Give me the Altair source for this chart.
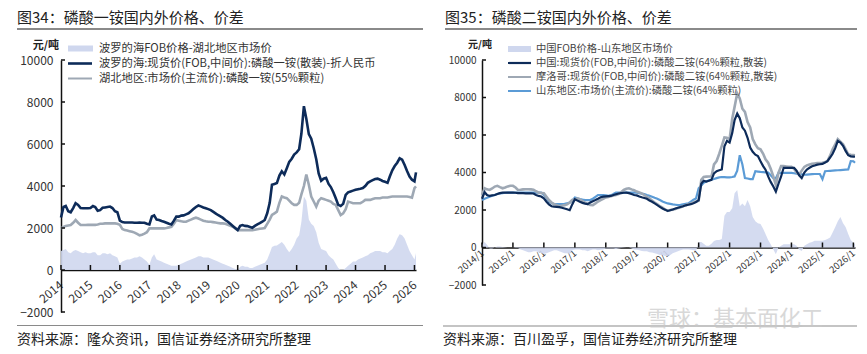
import altair as alt
import pandas as pd

FONT = "Noto Sans CJK SC"

# ---------------- shared time axis (monthly) ----------------
dates = list(pd.date_range("2014-01-01", "2026-01-01", freq="MS")) + [pd.Timestamp("2026-01-20")]
year_ticks = list(pd.date_range("2014-01-01", "2026-01-01", freq="YS"))
y_ticks = [-2000, 0, 2000, 4000, 6000, 8000, 10000]

# ---------------- 图34 data (MAP) ----------------
l_spread = [
    900, 950, 1000, 850, 800, 900, 950, 900, 850, 800, 850, 800,
    800, 850, 850, 700, 700, 800, 800, 750, 800, 700, 650, 600,
    300, 400, 450, 500, 500, 550, 600, 600, 650, 600, 500, 400,
    250, 600, 750, 500, 450, 400, 350, 300, 250, 200, 200, 200,
    250, 300, 350, 400, 450, 500, 550, 600, 650, 650, 600, 600,
    600, 550, 500, 450, 400, 350, 300, 250, 200, 150, 100, 50,
    0, 150, 200, 150, 150, 100, 100, 150, 200, 250, 300, 350,
    500, 800, 1100, 1150, 1170, 1250, 1330, 1200, 1000, 850, 1000, 1200,
    1500, 1650, 2300, 3500, 3300, 2400, 2200, 2100, 1800, 1300, 1000, 950,
    900, 700, 600, 500, 300, 100, 0, 0, 100, 200, 300, 400,
    400, 500, 550, 600, 650, 700, 800, 850, 900, 900, 900, 850,
    850, 800, 900, 1000, 1200, 1500, 1700, 1650, 1500, 1200, 900, 700,
    500, 800,
]
l_baltic = [
    2500, 3000, 3050, 2800, 2750, 2950, 3180, 3100, 2950, 2940, 2940, 2940,
    2950, 3050, 3000, 2820, 2850, 2960, 2980, 3000, 3020, 2950, 2800, 2750,
    2350, 2280, 2260, 2260, 2260, 2260, 2250, 2250, 2260, 2250, 2250, 2200,
    2170, 2550, 2600, 2400, 2380, 2330, 2300, 2250, 2200, 2170, 2350, 2540,
    2540, 2590, 2600, 2650, 2700, 2800, 2900, 3000, 3070, 3030, 2980, 2940,
    2900, 2850, 2780, 2700, 2620, 2550, 2480, 2380, 2300, 2200, 2100, 2000,
    1900, 2100, 2140, 2100, 2090, 2050, 2010, 2100, 2170, 2230, 2300, 2380,
    2700, 3200, 4060, 4100, 4140, 4500, 4700, 4550, 4850, 5150, 5300, 5500,
    5600, 5750, 6500, 7800, 7200, 6470, 6250, 5800, 5270, 4600, 4250, 4350,
    4390, 4100, 3950, 3700, 3420, 3100, 3050, 3150, 3580, 3700, 3740, 3780,
    3820, 3850, 3870, 3900, 4000, 4150, 4220, 4280, 4330, 4350, 4300, 4240,
    4200, 4150, 4450, 4750, 4950, 5110, 5320, 5250, 5000, 4710, 4450, 4300,
    4220, 4650,
]
l_hubei = [
    1980, 2050, 2100, 2120, 2140, 2250, 2380, 2250, 2140, 2140, 2140, 2150,
    2150, 2150, 2150, 2170, 2200, 2200, 2220, 2220, 2220, 2220, 2220, 2200,
    2150, 1950, 1900, 1880, 1850, 1820, 1780, 1720, 1650, 1680, 1730, 1800,
    1980, 1980, 1980, 1980, 1980, 1980, 1980, 2000, 2030, 2060, 2200, 2380,
    2350, 2320, 2300, 2300, 2350, 2400, 2450, 2490, 2450, 2400, 2350, 2320,
    2300, 2300, 2280, 2260, 2240, 2220, 2220, 2200, 2150, 2100, 2060, 1980,
    1900, 1900, 1900, 1900, 1900, 1900, 1900, 1920, 1940, 1960, 1980, 2000,
    2200, 2400, 2620, 2700, 2780, 3200, 3500, 3450, 3420, 3300, 3180, 3100,
    3100, 3200, 3600, 4000, 4550, 4060, 3500, 3260, 3020, 3300, 3420, 3380,
    3340, 3300, 3260, 3150, 3100, 2850, 2620, 2700, 2900, 3260, 3220, 3180,
    3180, 3180, 3180, 3250, 3340, 3340, 3340, 3380, 3420, 3420, 3420, 3450,
    3450, 3450, 3480, 3500, 3500, 3500, 3500, 3500, 3500, 3500, 3480, 3450,
    3900, 3980,
]

# ---------------- 图35 data (DAP) ----------------
r_spread = [
    150, 300, 150, -50, -50, 0, 50, 50, 30, 20, 0, 0,
    0, -20, -30, -100, -150, -200, -250, -250, -200, -200, -250, -300,
    -350, -300, -250, -200, -150, -150, -200, -250, -300, -300, -350, -150,
    -100, -100, -100, -150, -150, -200, -150, -100, -100, -150, -120, -100,
    -50, -50, -50, -50, -80, -50, -30, -10, 0, 0, -50, -100,
    -120, -150, -180, -200, -200, -250, -270, -300, -350, -400, -400, -450,
    -450, -400, -300, -250, -200, -150, -100, -100, -100, -120, -150, -200,
    300, 300, 200, 100, 100, 200, 350, 400, 400, 450, 1700, 1900,
    1900, 2100, 2900, 3070, 2200, 2350, 2200, 2530, 2200, 1630, 1400, 1300,
    1260, 1000, 720, 400, 180, -100, -360, 0, 90, 180, 180, 180,
    180, 180, 100, -100, -180, 100, 180, 250, 300, 360, 360, 360,
    360, 400, 450, 540, 800, 1100, 1400, 1630, 1300, 1100, 720, 400,
    250, 180,
]
r_china = [
    2600, 2950, 2800, 2750, 2780, 2800, 2850, 2900, 2930, 2930, 2930, 2930,
    2930, 2920, 2900, 2900, 2900, 2890, 2890, 2890, 2880, 2800, 2750, 2720,
    2620, 2440, 2300, 2200, 2180, 2170, 2150, 2120, 2080, 2040, 1990, 2300,
    2570, 2500, 2440, 2380, 2340, 2310, 2400, 2470, 2530, 2600, 2680, 2710,
    2730, 2740, 2750, 2800, 2840, 2880, 2900, 2920, 2930, 2900, 2850, 2800,
    2780, 2720, 2680, 2640, 2600, 2500, 2440, 2350, 2260, 2170, 2080, 2020,
    1950, 1990, 2030, 2080, 2120, 2160, 2200, 2250, 2280, 2310, 2360, 2420,
    2530, 3400, 3560, 3520, 3560, 3610, 3950, 4070, 4120, 4160, 5400, 5690,
    5600, 6100, 6800, 7140, 6900, 6400, 6230, 5850, 5330, 5100, 4950, 4880,
    4600, 4340, 4150, 3790, 3500, 3250, 2980, 3400, 3790, 4250, 4250, 4250,
    4250, 4250, 4100, 3850, 3700, 4000, 4160, 4250, 4330, 4370, 4420, 4440,
    4460, 4530, 4610, 4800, 5000, 5300, 5690, 5600, 5420, 5150, 4920, 4860,
    4850, 4840,
]
r_morocco = [
    2800, 3160, 3100, 3070, 3150, 3250, 3290, 3220, 3160, 3200, 3260, 3290,
    3290, 3200, 3070, 3080, 3100, 3110, 3110, 3100, 3080, 3000, 2930, 2910,
    2890, 2700, 2530, 2400, 2310, 2250, 2200, 2230, 2260, 2300, 2400, 2530,
    2560, 2620, 2560, 2480, 2390, 2320, 2270, 2260, 2350, 2450, 2530, 2600,
    2670, 2700, 2740, 2780, 2800, 2850, 2950, 3070, 3130, 3160, 3100, 3050,
    2980, 2940, 2890, 2800, 2700, 2620, 2500, 2400, 2310, 2200, 2130, 2030,
    1950, 2000, 2020, 2050, 2100, 2150, 2200, 2260, 2300, 2350, 2400, 2450,
    2490, 3610, 3760, 3780, 3790, 3790, 4430, 4610, 5000, 5420, 5870, 5850,
    5780, 6870, 7500, 8220, 7950, 7400, 7230, 6690, 6400, 5780, 5500, 5300,
    5240, 5000, 4700, 4520, 4200, 3790, 3340, 3980, 4340, 4340, 4320, 4300,
    4300, 4200, 4000, 3880, 4100, 4300, 4380, 4430, 4460, 4480, 4500, 4510,
    4520, 4560, 4610, 4900, 5240, 5500, 5780, 5650, 5510, 5250, 4970, 4940,
    4930, 4920,
]
r_shandong = [
    2530, 2600, 2650, 2710, 2760, 2800, 2850, 2890, 2900, 2920, 2930, 2930,
    2930, 2930, 2930, 2930, 2930, 2930, 2930, 2930, 2930, 2930, 2930, 2930,
    2800, 2650, 2440, 2370, 2310, 2310, 2310, 2310, 2330, 2360, 2390, 2500,
    2670, 2620, 2580, 2550, 2530, 2530, 2530, 2600, 2700, 2800, 2800, 2800,
    2780, 2750, 2780, 2850, 2930, 2930, 2930, 2930, 2930, 2930, 2930, 2930,
    2920, 2900, 2870, 2850, 2800, 2760, 2710, 2650, 2600, 2530, 2450, 2400,
    2350, 2330, 2300, 2280, 2260, 2270, 2300, 2330, 2350, 2450, 2550, 2620,
    3160, 3300, 3450, 3520, 3580, 3620, 3650, 3700, 3740, 3760, 3750, 3740,
    3740, 3760, 3790, 4100, 4920, 4430, 3700, 3680, 3650, 3650, 4070, 4050,
    4030, 4020, 4010, 4000, 3850, 3700, 3700, 3980, 3980, 3980, 3980, 3980,
    3980, 3960, 3940, 3920, 3900, 3880, 3890, 3900, 3910, 3920, 3920, 3920,
    3650, 4070, 4080, 4090, 4100, 4110, 4120, 4130, 4140, 4150, 4160, 4610,
    4600, 4520,
]

# ---------------- texts ----------------
l_title = "图34：磷酸一铵国内外价格、价差"
r_title = "图35：磷酸二铵国内外价格、价差"
l_source = "资料来源：隆众资讯，国信证券经济研究所整理"
r_source = "资料来源：百川盈孚，国信证券经济研究所整理"
unit = "元/吨"
l_legend = [
    "波罗的海FOB价格-湖北地区市场价",
    "波罗的海:现货价(FOB,中间价):磷酸一铵(散装)-折人民币",
    "湖北地区:市场价(主流价):磷酸一铵(55%颗粒)",
]
r_legend = [
    "中国FOB价格-山东地区市场价",
    "中国:现货价(FOB,中间价):磷酸二铵(64%颗粒,散装)",
    "摩洛哥:现货价(FOB,中间价):磷酸二铵(64%颗粒,散装)",
    "山东地区:市场价(主流价):磷酸二铵(64%颗粒)",
]
watermark = "雪球：基本面化工"

# ---------------- styles ----------------
AREA_C = "#cfd7ee"
DARK_C = "#0d2b59"
GRAY_C = "#9ea8b4"
BLUE_C = "#5b9bd6"
AXIS_C = "#111111"
TEXT_C = "#333333"

W_L, H_L = 355, 252
W_R, H_R = 373, 225
SPACING = 66
X_DOMAIN = [alt.DateTime(year=2014, month=1, date=1), alt.DateTime(year=2026, month=1, date=20)]
Y_DOMAIN = [-2000, 10000]


def one():
    return pd.DataFrame({"k": [0]})


def txt(text, x, y, size, color=TEXT_C, align="left", weight="normal", opacity=1.0):
    return alt.Chart(one()).mark_text(
        text=text, align=align, baseline="middle", font=FONT, fontSize=size,
        color=color, fontWeight=weight, opacity=opacity,
    ).encode(x=alt.value(x), y=alt.value(y))


def hrule(x1, x2, y, color, width):
    return alt.Chart(one()).mark_rule(color=color, strokeWidth=width).encode(
        x=alt.value(x1), x2=alt.value(x2), y=alt.value(y)
    )


def swatch(x1, x2, y1, y2, color):
    return alt.Chart(one()).mark_rect(color=color).encode(
        x=alt.value(x1), x2=alt.value(x2), y=alt.value(y1), y2=alt.value(y2)
    )


def panel(df, W, H, series, label_fmt, xfs, yfs, xpad, ypad, x_angle):
    y0 = H * Y_DOMAIN[1] / (Y_DOMAIN[1] - Y_DOMAIN[0])
    xaxis = alt.Axis(
        format=label_fmt, formatType="time",
        values=[alt.DateTime(year=d.year, month=1, date=1) for d in year_ticks],
        labelAngle=x_angle, labelAlign="right", labelBaseline="middle", labelPadding=xpad,
        labelFont=FONT, labelFontSize=xfs, labelColor=TEXT_C, labelOverlap=False,
        domainColor=AXIS_C, domainWidth=1.5, ticks=False, grid=False, title=None,
        offset=-(H - y0),
    )
    yaxis = alt.Axis(
        values=y_ticks, format="d", labelFont=FONT, labelFontSize=yfs, labelColor=TEXT_C,
        labelPadding=ypad, domainColor=AXIS_C, domainWidth=1.5, ticks=False, grid=False, title=None,
    )
    xs = alt.Scale(domain=X_DOMAIN)
    ys = alt.Scale(domain=Y_DOMAIN, nice=False, zero=False)

    base = alt.Chart(df)
    layers = [
        base.mark_area(color=AREA_C, opacity=0.9).encode(
            x=alt.X("date:T", scale=xs, axis=xaxis),
            y=alt.Y("spread:Q", scale=ys, axis=yaxis),
        )
    ]
    for field, color, sw in series:
        layers.append(
            base.mark_line(color=color, strokeWidth=sw).encode(
                x=alt.X("date:T", scale=xs, axis=xaxis),
                y=alt.Y(f"{field}:Q", scale=ys, axis=yaxis),
            )
        )
    # inward ticks
    layers.append(
        alt.Chart(pd.DataFrame({"v": y_ticks})).mark_rule(color=AXIS_C, strokeWidth=1.5).encode(
            y=alt.Y("v:Q", scale=ys, axis=yaxis), x=alt.value(0), x2=alt.value(4)
        )
    )
    layers.append(
        alt.Chart(pd.DataFrame({"d": year_ticks})).mark_rule(color=AXIS_C, strokeWidth=1.5).encode(
            x=alt.X("d:T", scale=xs, axis=xaxis), y=alt.value(y0), y2=alt.value(y0 - 5)
        )
    )
    return layers


left_df = pd.DataFrame({"date": dates, "spread": l_spread, "baltic": l_baltic, "hubei": l_hubei})
right_df = pd.DataFrame({"date": dates, "spread": r_spread, "china": r_china,
                         "morocco": r_morocco, "shandong": r_shandong})

left_layers = panel(left_df, W_L, H_L, [("hubei", GRAY_C, 2.6), ("baltic", DARK_C, 2.6)],
                    "%Y", 12, 12, 13, 8, -40)
left_layers += [
    # invisible frame fixing the page bounds (867 x 354, plot origin at 61,60)
    alt.Chart(one()).mark_rule(opacity=0, strokeWidth=0.5).encode(
        x=alt.value(-61), x2=alt.value(806), y=alt.value(-60), y2=alt.value(294)),
    txt(l_title, -44, -42, 15, color="#222222"),
    hrule(-44, 362, -31, "#8a8a8a", 2),
    txt(unit, -2, -14, 11, color="#222222", align="right", weight="bold"),
    swatch(7, 32, -14.5, -8.5, AREA_C),
    hrule(7, 31, 3.5, DARK_C, 2.6),
    hrule(7, 31, 18.5, GRAY_C, 2),
    txt(l_legend[0], 38, -11.5, 11.3),
    txt(l_legend[1], 38, 3.5, 11.3),
    txt(l_legend[2], 38, 18.5, 11.3),
    hrule(-44, 362, 265.5, "#8a8a8a", 1.2),
    txt(l_source, -44, 280, 14, color="#222222"),
]
left = alt.layer(*left_layers).properties(width=W_L, height=H_L)

right_layers = panel(right_df, W_R, H_R,
                     [("shandong", BLUE_C, 2.2), ("morocco", GRAY_C, 2.6), ("china", DARK_C, 2.2)],
                     "%Y/%-m", 9.5, 10, 4, 6, -40)
right_layers += [
    txt(r_title, -37, -42, 15, color="#222222"),
    hrule(-37, 375, -31, "#8a8a8a", 2),
    txt(unit, -2, -15, 10, color="#222222", align="center", weight="bold"),
    swatch(26, 49, -14, -8, AREA_C),
    hrule(26, 49, 3, DARK_C, 2.2),
    hrule(26, 49, 17, GRAY_C, 2),
    hrule(26, 49, 31, BLUE_C, 2),
    txt(r_legend[0], 54, -11, 10.3, color="#444444"),
    txt(r_legend[1], 54, 3, 10.3, color="#444444"),
    txt(r_legend[2], 54, 17, 10.3, color="#444444"),
    txt(r_legend[3], 54, 31, 10.3, color="#444444"),
    hrule(-39, 375, 266, "#8a8a8a", 1.2),
    txt(r_source, -39, 280, 14, color="#222222"),
    txt(watermark, 165, 259, 22, color="#c8c8c8", opacity=0.7),
]
right = alt.layer(*right_layers).properties(width=W_R, height=H_R)

chart = (
    alt.hconcat(left, right, spacing=SPACING, bounds="flush", padding=0, background="white")
    .resolve_scale(x="independent", y="independent")
    .configure_view(stroke=None)
)

chart.save("out.html", embed_options={"renderer": "svg", "actions": False})
